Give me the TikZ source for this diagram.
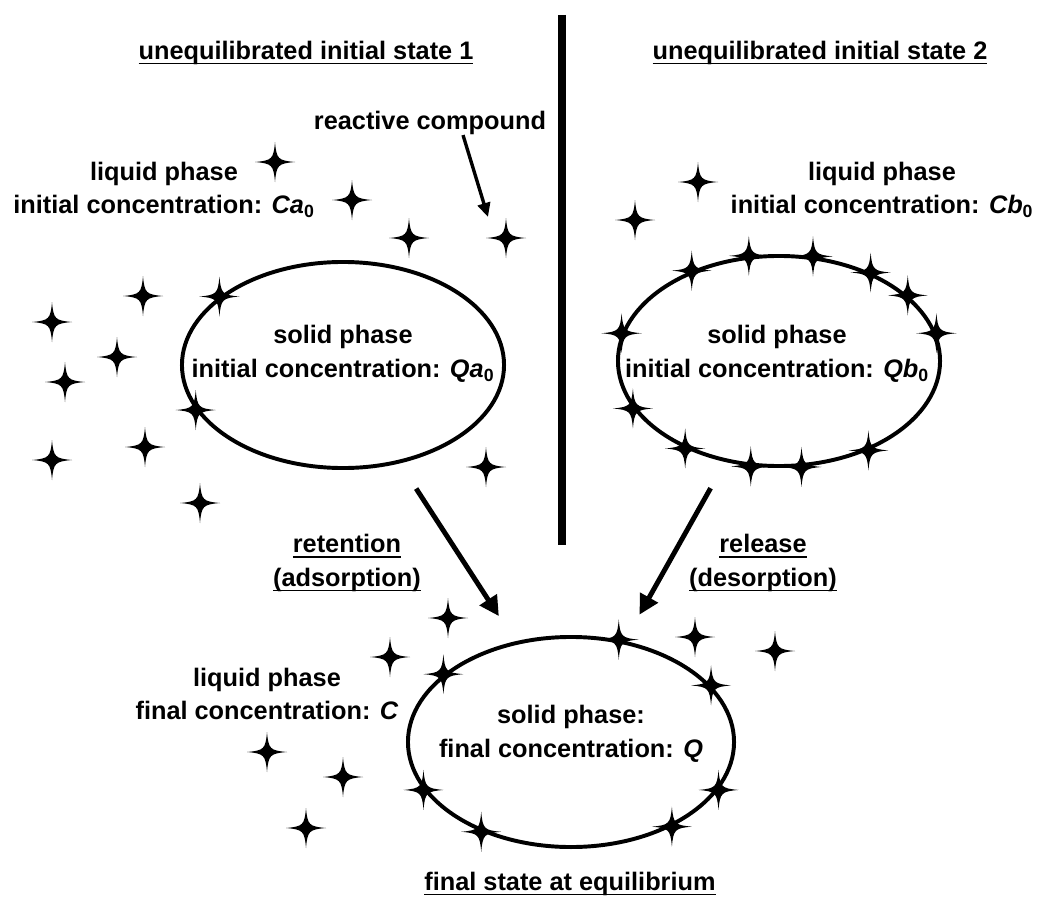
\documentclass[tikz,border=0pt]{standalone}
\usepackage{fontspec}
\setmainfont{Liberation Sans}
\usepackage{tikz}
\usetikzlibrary{shapes.geometric, arrows.meta}
\newcommand{\stella}[1]{
\fill[shift={#1}] (0,20) .. controls (1.5,3) and (3,1.5) .. (20,0) .. controls (3,-1.5) and (1.5,-3) .. (0,-20) .. controls (-1.5,-3) and (-3,-1.5) .. (-20,0) .. controls (-3,1.5) and (-1.5,3) .. (0,20) -- cycle;
}
\newcommand{\sottolinea}[1]{\setbox0\hbox{#1}\leavevmode\rlap{\rule[-3.5pt]{\wd0}{1.3pt}}\box0}

\begin{document}
\begin{tikzpicture}[x=0.025cm, y=-0.025cm,
    testo/.style={font=\fontsize{18}{24}\selectfont\bfseries, align=center, inner sep=0pt},
    fase/.style={ellipse, draw, line width=2.8pt, inner sep=0pt},
    freccia/.style={line width=3.5pt, -{Triangle[length=14pt,width=14pt]}},
    frecciaPiccola/.style={line width=2.4pt, -{Triangle[length=10pt,width=9pt]}}]
    \useasboundingbox (0,0) rectangle (1040,900);

    % Separatore
    \draw[line width=5pt] (562,15) -- (562,545);

    % Titoli
    \node[testo] (tit1) at (306,53) {\sottolinea{unequilibrated initial state 1}};
    \node[testo] (tit2) at (820,53) {\sottolinea{unequilibrated initial state 2}};
    \node[testo] (tit3) at (570,884) {\sottolinea{final state at equilibrium}};

    % Stato 1
    \node[fase, minimum width=8.05cm, minimum height=5.15cm] (ell1) at (343,365) {};
    \node[testo] (sol1) at (343,354) {solid phase\\initial concentration: \textit{Qa}\textsubscript{0}};
    \node[testo] (liq1) at (164,190) {liquid phase\\initial concentration: \textit{Ca}\textsubscript{0}};
    \node[testo] (reactive) at (430,123) {reactive compound};
    \coordinate (rc) at (506,238);
    \coordinate (punta) at (488,217);
    \draw[frecciaPiccola] ([xshift=0.825cm]reactive.south) -- (punta);
    \stella{(rc)}
    \stella{(275,162)}
    \stella{(352,200)}
    \stella{(409,238)}
    \stella{(143,296)}
    \stella{(52,322)}
    \stella{(117,357)}
    \stella{(65,382)}
    \stella{(145,447)}
    \stella{(52,460)}
    \stella{(486,467)}
    \stella{(200,503)}
    \stella{(ell1.151)}
    \stella{(ell1.197)}

    % Stato 2
    \node[fase, minimum width=8.05cm, minimum height=5.25cm] (ell2) at (779,361) {};
    \node[testo] (sol2) at (777,354) {solid phase\\initial concentration: \textit{Qb}\textsubscript{0}};
    \node[testo] (liq2) at (882,190) {liquid phase\\initial concentration: \textit{Cb}\textsubscript{0}};
    \stella{(698,182)}
    \stella{(635,220)}
    \stella{(ell2.106)}
    \stella{(ell2.72)}
    \stella{(ell2.134)}
    \stella{(ell2.44)}
    \stella{(ell2.27)}
    \stella{(ell2.10)}
    \stella{(ell2.170)}
    \stella{(ell2.198)}
    \stella{(ell2.223)}
    \stella{(ell2.255)}
    \stella{(ell2.282)}
    \stella{(ell2.315)}

    % Stato finale
    \node[fase, minimum width=8.15cm, minimum height=5.25cm] (ell3) at (571,742) {};
    \node[testo] (sol3) at (571,734) {solid phase:\\final concentration: \textit{Q}};
    \node[testo] (liq3) at (267,694) {liquid phase\\final concentration: \textit{C}};
    \stella{(448,618)}
    \stella{(390,657)}
    \stella{(695,637)}
    \stella{(775,651)}
    \stella{(267,752)}
    \stella{(343,777)}
    \stella{(306,828)}
    \stella{(ell3.152)}
    \stella{(ell3.65)}
    \stella{(ell3.22)}
    \stella{(ell3.198)}
    \stella{(ell3.225)}
    \stella{(ell3.342)}
    \stella{(ell3.320)}

    % Frecce
    \draw[freccia, shorten <=0.75cm, shorten >=0.75cm] (ell1.-60) -- (ell3.119);
    \draw[freccia, shorten <=0.75cm, shorten >=0.75cm] (ell2.-118) -- (ell3.62);
    \node[testo] (ret) at (347,563) {\sottolinea{retention}\\\sottolinea{(adsorption)}};
    \node[testo] (rel) at (763,563) {\sottolinea{release}\\\sottolinea{(desorption)}};
\end{tikzpicture}
\end{document}
